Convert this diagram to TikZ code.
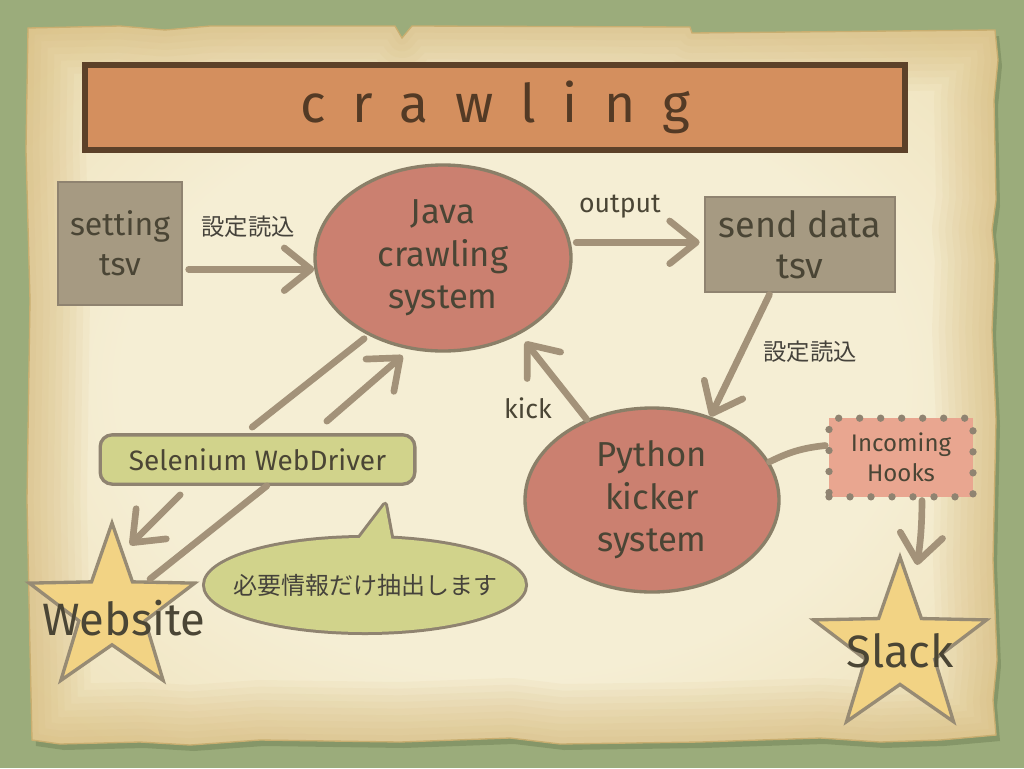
\documentclass[tikz,border=0pt]{standalone}
\usepackage{fontspec}
\setmainfont{Fira Sans}
\newfontfamily\jpfont{Noto Sans CJK JP}
\usetikzlibrary{shapes.geometric,arrows.meta}
\definecolor{bggreen}{HTML}{9BAC7B}
\definecolor{shadowgreen}{HTML}{7D8E60}
\definecolor{papc}{HTML}{F5EED4}
\definecolor{papm}{HTML}{EFE2BB}
\definecolor{pape}{HTML}{DCC185}
\definecolor{papedge}{HTML}{D0AE68}
\definecolor{papline}{HTML}{C9AE70}
\definecolor{banfill}{HTML}{D48F5E}
\definecolor{banline}{HTML}{5C4129}
\definecolor{boxfill}{HTML}{A69A82}
\definecolor{boxline}{HTML}{8F8370}
\definecolor{ellfill}{HTML}{CB8070}
\definecolor{ellline}{HTML}{8A7F68}
\definecolor{selfill}{HTML}{D1D38B}
\definecolor{starfill}{HTML}{F2D384}
\definecolor{starline}{HTML}{978B74}
\definecolor{hookfill}{HTML}{E9A690}
\definecolor{dotcol}{HTML}{8F8371}
\definecolor{arrowcol}{HTML}{A39279}
\definecolor{txt}{HTML}{4A4535}
\definecolor{jptxt}{HTML}{45423B}
\pgfdeclareradialshading{paper}{\pgfpoint{0bp}{0bp}}{color(0bp)=(papc); color(20bp)=(papc); color(34bp)=(papm); color(46bp)=(pape); color(50bp)=(pape)}
\newcommand{\papershape}{(28,28) -- (120,26) -- (165,30) -- (210,26) -- (395,26) -- (402,38) -- (412,26) -- (690,27) -- (692,33) -- (995,30) -- (998,60) -- (994,100) -- (996,200) -- (992,230) -- (995,260) -- (992,330) -- (996,420) -- (993,560) -- (997,660) -- (993,700) -- (996,735) -- (940,740) -- (880,742) -- (820,738) -- (700,742) -- (560,744) -- (510,738) -- (400,742) -- (260,740) -- (190,745) -- (140,742) -- (60,744) -- (32,740) -- (30,650) -- (27,500) -- (30,300) -- (26,150) -- cycle}
\begin{document}
\begin{tikzpicture}[x=0.75pt,y=-0.75pt,
  tnorm/.style={text=txt, align=center, font=\fontsize{26}{32}\selectfont},
  jplab/.style={text=jptxt, font=\jpfont\fontsize{17.5}{20}\selectfont},
  hand/.style={text=txt, font=\fontsize{20}{24}\selectfont},
  tsvbox/.style={rectangle, fill=boxfill, draw=boxline, line width=2pt, inner sep=0pt, text=txt, align=center},
  ellnode/.style={ellipse, fill=ellfill, draw=ellline, line width=2.5pt, inner sep=0pt, tnorm},
  starnode/.style={star, star points=5, star point ratio=2.5, fill=starfill, draw=starline, line width=2.5pt, inner sep=0pt, outer sep=0pt},
  arr/.style={draw=arrowcol, line width=5pt, line cap=round, -{Straight Barb[length=20pt,width=32pt,round]}},
  plainline/.style={draw=arrowcol, line width=5pt, line cap=round},
]
\fill[bggreen] (0,0) rectangle (1024,768);
\useasboundingbox (0,0) rectangle (1024,768);
\begin{scope}[shift={(4,6)}]
\fill[shadowgreen, opacity=0.7] \papershape;
\end{scope}
\shade[shading=paper] \papershape;
\begin{scope}
\clip \papershape;
\foreach \w in {90,80,...,10} {
  \draw[papedge, line width=\w pt, opacity=0.07, line join=round] \papershape;
}
\end{scope}
\draw[papline, line width=1pt] \papershape;

% title banner
\node[rectangle, fill=banfill, draw=banline, line width=4.5pt, minimum width=615pt, minimum height=63.75pt, text=banline!90!black, font=\fontsize{40}{48}\selectfont] (title) at (495,107.5)
  {c\hspace{20pt}r\hspace{20pt}a\hspace{20pt}w\hspace{20pt}l\hspace{20pt}i\hspace{20pt}n\hspace{20pt}g};

% nodes
\node[tsvbox, minimum width=93pt, minimum height=92.25pt, font=\fontsize{24}{30}\selectfont] (setbox) at (120,243.5) {setting\\tsv};
\node[ellnode, minimum width=192pt, minimum height=139.5pt] (java) at (443,258) {Java\\crawling\\system};
\node[tsvbox, minimum width=142.5pt, minimum height=71.25pt, font=\fontsize{27}{31}\selectfont] (sendbox) at (800,244.5) {send data\\tsv};
\node[ellnode, minimum width=190.5pt, minimum height=138pt] (python) at (652,500) {Python\\kicker\\system};
\node[rectangle, fill=hookfill, draw=dotcol, line width=5.5pt, line cap=round, dash pattern=on 0pt off 15.75pt, minimum width=108pt, minimum height=59pt, inner sep=0pt, text=txt, align=center, font=\fontsize{18}{22.5}\selectfont] (hooks) at (901,457.5) {Incoming\\Hooks};
\node[rectangle, rounded corners=9pt, fill=selfill, draw=boxline, line width=2.5pt, minimum width=236pt, minimum height=37pt, inner sep=0pt, text=txt, font=\fontsize{21}{25}\selectfont] (selenium) at (257.5,459.5) {Selenium WebDriver};
\node[starnode, minimum size=130.5pt, label={[text=txt, font=\fontsize{34}{40}\selectfont, xshift=9pt, yshift=-6pt]center:Website}] (website) at (112,610) {};
\node[starnode, minimum size=136.5pt, label={[text=txt, font=\fontsize{34}{40}\selectfont, yshift=-2pt]center:Slack}] (slack) at (900,648) {};

% speech bubble
\node[ellipse, minimum width=240pt, minimum height=70.5pt, inner sep=0pt] (bubble) at (365,585) {};
\draw[boxline, line width=4.5pt] (bubble.center) ellipse [x radius=120pt, y radius=35.25pt];
\draw[boxline, line width=4.5pt, line join=round] ([xshift=-9pt,yshift=-6.75pt]bubble.north) -- ([xshift=15pt,yshift=24.75pt]bubble.north) -- ([xshift=21pt,yshift=-7.5pt]bubble.north);
\fill[selfill] (bubble.center) ellipse [x radius=120pt, y radius=35.25pt];
\fill[selfill] ([xshift=-9pt,yshift=-6.75pt]bubble.north) -- ([xshift=15pt,yshift=24.75pt]bubble.north) -- ([xshift=21pt,yshift=-7.5pt]bubble.north) -- cycle;
\node[jplab, font=\jpfont\fontsize{18}{20}\selectfont] (bubbletext) at (bubble.center) {必要情報だけ抽出します};

% labels
\node[jplab] (lab1) at (248,227) {設定読込};
\node[jplab] (lab2) at (810,352) {設定読込};
\node[hand] (labout) at (620,207) {output};
\node[hand] (labkick) at (528,408) {kick};

% connectors
\draw[arr, shorten <=4pt] (setbox.east |- java.185) -- (java.185);
\draw[arr, shorten <=4pt, shorten >=3pt] (java.7) -- (java.7 -| sendbox.west);
\draw[arr, shorten <=1pt] ([xshift=-22.5pt]sendbox.south) -- (python.55);
\draw[arr, shorten >=7pt] (python.129) -- (java.-45);
\draw[arr, shorten >=7pt] ([xshift=52pt,yshift=9pt]selenium.north) -- (java.250);
\draw[plainline, shorten >=4pt] ([xshift=-4pt,yshift=4.5pt]selenium.north) -- (java.226);
\draw[plainline] ([xshift=28.5pt,yshift=-42pt]website.north) -- ([xshift=7pt]selenium.south);
\draw[arr] ([xshift=-58pt,yshift=-6.75pt]selenium.south) -- ([xshift=13.5pt,yshift=-16.5pt]website.north);
\draw[plainline] (python.18) to[bend left=10] ([yshift=9pt]hooks.west);
\draw[arr] ([xshift=15.75pt]hooks.south) to[bend left=4] ([xshift=12.75pt,yshift=-6pt]slack.north);
\end{tikzpicture}
\end{document}
